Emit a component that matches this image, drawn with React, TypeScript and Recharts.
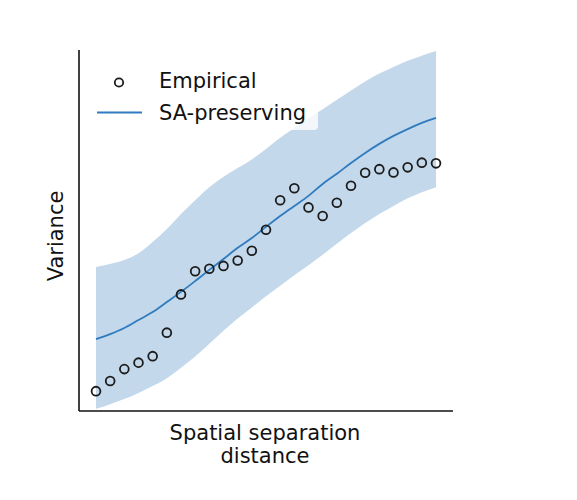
import React from "react";
import { ComposedChart, Area, Line, Scatter, XAxis, YAxis } from "recharts";

// Spatial separation distance (lag index)
const lags = [1, 2, 3, 4, 5, 6, 7, 8, 9, 10, 11, 12, 13, 14, 15, 16, 17, 18, 19, 20, 21, 22, 23, 24, 25];

// Empirical variance
const empirical = [5.5, 8.3, 11.6, 13.4, 15.2, 21.7, 32.3, 38.7, 39.4, 40.2, 41.7, 44.4, 50.2, 58.4, 61.7, 56.4, 54.0, 57.7, 62.4, 66.0, 67.0, 66.1, 67.5, 68.8, 68.6];

// SA-preserving model mean
const saMean = [19.9, 21.3, 23.0, 25.2, 27.4, 30.2, 33.0, 36.0, 39.1, 42.1, 45.2, 47.9, 51.0, 54.0, 56.8, 59.6, 62.9, 65.7, 68.7, 71.5, 74.0, 76.2, 78.1, 79.8, 81.2];

// SA-preserving envelope
const saLow = [0.6, 1.9, 3.3, 5.0, 6.9, 9.1, 12.0, 15.1, 18.6, 22.2, 25.6, 28.7, 31.8, 34.7, 37.6, 40.4, 43.3, 46.3, 49.3, 52.1, 54.6, 56.8, 58.9, 60.6, 62.0];
const saHigh = [39.9, 40.7, 41.8, 43.7, 46.8, 50.4, 54.6, 58.4, 62.0, 64.9, 67.3, 69.7, 72.6, 75.7, 78.4, 81.1, 83.6, 86.2, 88.8, 91.3, 93.5, 95.3, 97.0, 98.4, 99.7];

const data = lags.map((x, i) => ({
  x,
  emp: empirical[i],
  mean: saMean[i],
  band: [saLow[i], saHigh[i]],
}));

const FONT = "'DejaVu Sans', sans-serif";

const Ring = (props: any) => {
  const { cx, cy } = props;
  if (cx == null || cy == null) return null;
  return <circle cx={cx} cy={cy} r={4.4} fill="none" stroke="#1c1c1c" strokeWidth={1.8} />;
};

export default function App() {
  return (
    <div style={{ position: "absolute", left: 0, top: 0, width: 577, height: 500, background: "#fff" }}>
      <ComposedChart
        width={577}
        height={500}
        data={data}
        margin={{ top: 50, right: 124, bottom: 88, left: 78 }}
      >
        <XAxis
          dataKey="x"
          type="number"
          domain={[-0.2, 26.2]}
          tick={false}
          tickLine={false}
          height={1}
          axisLine={{ stroke: "#111", strokeWidth: 1.6 }}
        />
        <YAxis
          type="number"
          domain={[0, 100]}
          tick={false}
          tickLine={false}
          width={1}
          axisLine={{ stroke: "#111", strokeWidth: 1.6 }}
        />
        <Area
          dataKey="band"
          type="monotone"
          stroke="none"
          fill="#c3d8ea"
          fillOpacity={1}
          isAnimationActive={false}
        />
        <Line
          dataKey="mean"
          type="monotone"
          stroke="#2f7bbf"
          strokeWidth={1.8}
          dot={false}
          activeDot={false}
          isAnimationActive={false}
        />
        <Scatter dataKey="emp" shape={Ring} isAnimationActive={false} />
      </ComposedChart>
      <svg
        width={577}
        height={500}
        style={{ position: "absolute", left: 0, top: 0, pointerEvents: "none" }}
      >
        <rect x={88} y={60} width={230} height={70} rx={4} fill="#fff" fillOpacity={0.8} />
        <circle cx={119} cy={82.5} r={4.2} fill="none" stroke="#1c1c1c" strokeWidth={1.8} />
        <text x={159} y={87.5} fontFamily={FONT} fontSize={21} fill="#111">Empirical</text>
        <line x1={97} y1={112.5} x2={142} y2={112.5} stroke="#2f7bbf" strokeWidth={1.8} />
        <text x={159} y={120} fontFamily={FONT} fontSize={21} fill="#111">SA-preserving</text>
        <text x={265} y={440} textAnchor="middle" fontFamily={FONT} fontSize={21} fill="#111">Spatial separation</text>
        <text x={265} y={463} textAnchor="middle" fontFamily={FONT} fontSize={21} fill="#111">distance</text>
        <text
          x={63}
          y={236}
          textAnchor="middle"
          transform="rotate(-90 63 236)"
          fontFamily={FONT}
          fontSize={21}
          fill="#111"
        >
          Variance
        </text>
      </svg>
    </div>
  );
}
